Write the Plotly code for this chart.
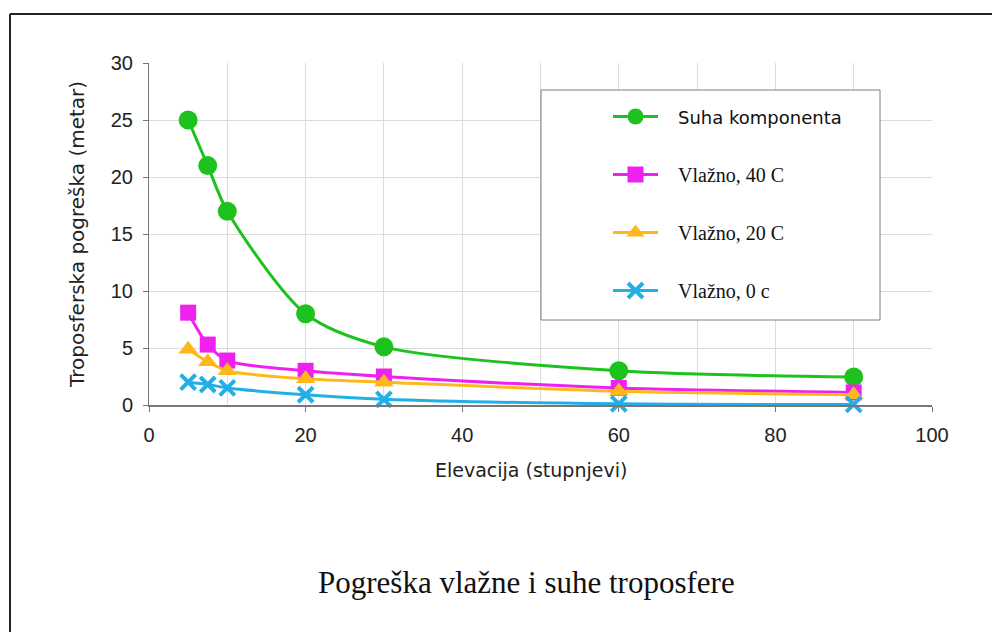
import plotly.graph_objects as go

elevacija = [5, 7.5, 10, 20, 30, 60, 90]
suha = [25.0, 21.0, 17.0, 8.0, 5.1, 3.0, 2.45]
vlazno_40 = [8.1, 5.3, 3.9, 3.0, 2.5, 1.5, 1.1]
vlazno_20 = [4.9, 3.8, 3.0, 2.3, 2.0, 1.2, 0.9]
vlazno_0 = [2.0, 1.8, 1.5, 0.9, 0.5, 0.1, 0.05]

pad = "\u00a0\u00a0\u00a0"
names = [pad + '<span style="font-family:DejaVu Sans;font-size:18px">Suha komponenta</span>',
         pad + "Vlažno, 40 C", pad + "Vlažno, 20 C", pad + "Vlažno, 0 c"]
colors = ["#1ec21e", "#ee22ee", "#ffb81c", "#22aee6"]
symbols = ["circle", "square", "triangle-up", "x-thin"]
sizes = [19, 16, 17, 15]
series = [suha, vlazno_40, vlazno_20, vlazno_0]

fig = go.Figure()
for i, (nm, col, sym, sz, ys) in enumerate(zip(names, colors, symbols, sizes, series)):
    marker = dict(symbol=sym, size=sz, color=col)
    if sym == "x-thin":
        marker["line"] = dict(color=col, width=4)
    fig.add_trace(go.Scatter(
        x=elevacija, y=ys, name=nm, mode="lines+markers",
        line=dict(color=col, width=3, shape="spline", smoothing=0.8),
        marker=marker, legendgroup=f"g{i}", cliponaxis=False,
    ))

# page offset (body margin) and plot area geometry in page px
OFF = 8
L, R, T, B = 149 - OFF, 932 - OFF, 63 - OFF, 405 - OFF
W, H = 1000 - OFF, 632 - OFF
pw, ph = R - L, B - T

def px2x(p):
    return (p - OFF - L) / pw

def px2y(p):
    return (B - (p - OFF)) / ph

shapes = [
    # outer frame (left and top edges)
    dict(type="line", xref="paper", yref="paper", x0=px2x(10), x1=px2x(10),
         y0=px2y(14), y1=px2y(640), line=dict(color="#222", width=2)),
    dict(type="line", xref="paper", yref="paper", x0=px2x(10), x1=px2x(1005),
         y0=px2y(14), y1=px2y(14), line=dict(color="#222", width=2)),
    # legend box
    dict(type="rect", xref="paper", yref="paper", x0=px2x(541), x1=px2x(880),
         y0=px2y(320), y1=px2y(90), line=dict(color="#7f7f7f", width=1),
         fillcolor="white", layer="above"),
]

fig.update_layout(
    width=W, height=H,
    margin=dict(l=L, r=W - R, t=T, b=H - B),
    paper_bgcolor="white", plot_bgcolor="white",
    font=dict(family="Liberation Sans", color="#222"),
    showlegend=True,
    legend=dict(x=px2x(608), y=px2y(97), xanchor="left", yanchor="top",
                bgcolor="rgba(0,0,0,0)", borderwidth=0,
                font=dict(family="Liberation Serif", size=20, color="#111"),
                traceorder="grouped", tracegroupgap=29, itemwidth=45),
    shapes=shapes,
    xaxis=dict(range=[0, 100], dtick=20, showgrid=True, gridcolor="#dcdcdc",
               minor=dict(dtick=10, showgrid=True, gridcolor="#dcdcdc"),
               showline=True, linecolor="#777", linewidth=2,
               ticks="outside", ticklen=5, tickcolor="#777",
               tickfont=dict(size=20, color="#222"), ticklabelstandoff=6,
               zeroline=False),
    yaxis=dict(range=[0, 30], dtick=5, showgrid=True, gridcolor="#dcdcdc",
               showline=True, linecolor="#777", linewidth=1,
               ticks="outside", ticklen=5, tickcolor="#777",
               tickfont=dict(size=20, color="#222"), ticklabelstandoff=6,
               zeroline=False,
               title=dict(text="Troposferska pogreška (metar)",
                          font=dict(family="DejaVu Sans", size=20, color="#222"),
                          standoff=20)),
    annotations=[
        dict(text="Elevacija (stupnjevi)", xref="paper", yref="paper",
             x=px2x(531), y=px2y(470), xanchor="center", yanchor="middle",
             showarrow=False,
             font=dict(family="DejaVu Sans", size=19, color="#222")),
        dict(text="Pogreška vlažne i suhe troposfere", xref="paper", yref="paper",
             x=px2x(526), y=px2y(582), xanchor="center", yanchor="middle",
             showarrow=False,
             font=dict(family="Liberation Serif", size=31, color="#111")),
    ],
)

fig.write_html("out.html")
